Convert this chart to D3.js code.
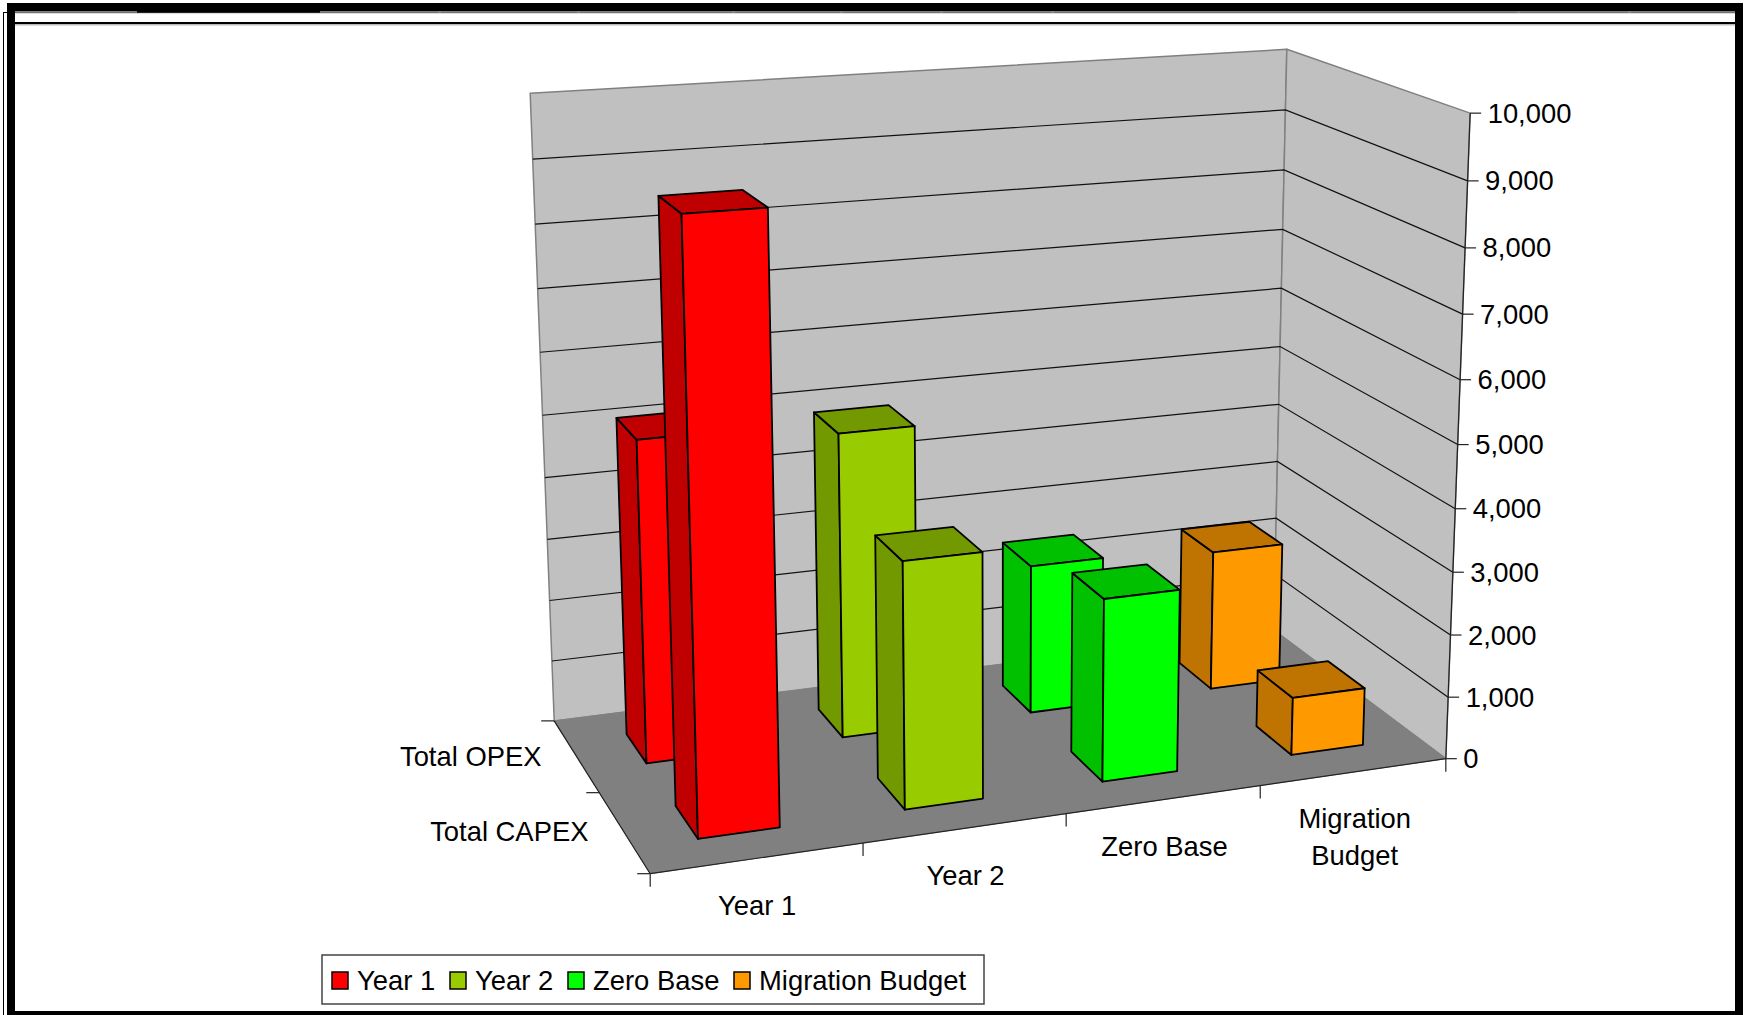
<!DOCTYPE html>
<html>
<head>
<meta charset="utf-8">
<script src="https://cdn.jsdelivr.net/npm/d3@7"></script>
<style>
  html, body { margin: 0; padding: 0; background: #fff; }
  svg { display: block; }
  text { font-family: "Liberation Sans", Arial, sans-serif; font-size: 27.4px; fill: #000; }
</style>
</head>
<body>
<div id="chart"></div>
<script>
// Data
const categories = ['Year 1', 'Year 2', 'Zero Base', 'Migration Budget'];
const rows = ['Total CAPEX', 'Total OPEX'];
const capexValues = [9150, 3830, 2890, 930];
const opexValues = [5120, 4910, 2440, 2320];
const valueTicks = [0, 1000, 2000, 3000, 4000, 5000, 6000, 7000, 8000, 9000, 10000];

const frontColors = ['#ff0000', '#99cc00', '#00ff00', '#ff9900'];
const sideColors = ['#c00000', '#739900', '#00c000', '#bf7300'];

const width = 1749;
const height = 1015;

const svg = d3.select('#chart')
  .append('svg')
  .attr('width', width)
  .attr('height', height);

// Scales, unit box: u left to right, v front to back, w bottom to top
const uScale = d3.scaleBand().domain(categories).range([0, 1]).paddingInner(0.61).paddingOuter(0.3);
const vScale = d3.scaleBand().domain(rows).range([0, 1]).paddingInner(0.58).paddingOuter(0.31);
const wScale = d3.scaleLinear().domain([0, 10000]).range([0, 1]);

// Screen positions of the plot box, used to fit the perspective
const anchors = [
  [0, 0, 0, 650, 874], [1, 0, 0, 1446.4, 758], [0, 1, 0, 554, 721], [1, 1, 0, 1274, 630],
  [0, 1, 1, 530, 93], [1, 1, 1, 1286.4, 49], [1, 0, 1, 1470.3, 114],
  [1, 0, 0.5, 1458.6, 444], [0, 1, 0.5, 543, 415], [1, 1, 0.5, 1279.7, 347],
  [0, 0.5, 0, 600, 793], [0.25, 0, 0, 863, 843], [0.5, 0, 0, 1065.6, 813], [0.75, 0, 0, 1259, 786]
];

function solve(A, b) {
  const n = b.length;
  const M = A.map((r, i) => [...r, b[i]]);
  for (let i = 0; i < n; i++) {
    let p = i;
    for (let k = i + 1; k < n; k++) if (Math.abs(M[k][i]) > Math.abs(M[p][i])) p = k;
    [M[i], M[p]] = [M[p], M[i]];
    for (let k = 0; k < n; k++) {
      if (k === i) continue;
      const f = M[k][i] / M[i][i];
      for (let j = i; j <= n; j++) M[k][j] -= f * M[i][j];
    }
  }
  return M.map((r, i) => r[n] / r[i]);
}

// x = (a0 + a1 u + a2 v + a3 w) / (1 + c1 u + c2 v + c3 w), same for y
const eqs = [];
const rhs = [];
anchors.forEach(([u, v, w, x, y]) => {
  eqs.push([1, u, v, w, 0, 0, 0, 0, -u * x, -v * x, -w * x]); rhs.push(x);
  eqs.push([0, 0, 0, 0, 1, u, v, w, -u * y, -v * y, -w * y]); rhs.push(y);
});
const ata = d3.range(11).map(i => d3.range(11).map(j => d3.sum(eqs, e => e[i] * e[j])));
const atb = d3.range(11).map(i => d3.sum(eqs, (e, k) => e[i] * rhs[k]));
const P = solve(ata, atb);

const project = (u, v, w) => {
  const t = 1 + P[8] * u + P[9] * v + P[10] * w;
  return [(P[0] + P[1] * u + P[2] * v + P[3] * w) / t, (P[4] + P[5] * u + P[6] * v + P[7] * w) / t];
};

const line = d3.line();
const poly = pts => line(pts) + 'Z';

function face(pts, fill, stroke, sw) {
  svg.append('path')
    .attr('d', poly(pts))
    .attr('fill', fill)
    .attr('stroke', stroke)
    .attr('stroke-width', sw)
    .attr('stroke-linejoin', 'round');
}

// Walls and floor
face([project(0, 1, 0), project(1, 1, 0), project(1, 1, 1), project(0, 1, 1)], '#c0c0c0', '#808080', 1.5);
face([project(1, 1, 0), project(1, 0, 0), project(1, 0, 1), project(1, 1, 1)], '#c0c0c0', '#808080', 1.5);
face([project(0, 0, 0), project(1, 0, 0), project(1, 1, 0), project(0, 1, 0)], '#808080', '#808080', 1);

// Gridlines
valueTicks.slice(1, -1).forEach(t => {
  const w = wScale(t);
  svg.append('path')
    .attr('d', line([project(0, 1, w), project(1, 1, w), project(1, 0, w)]))
    .attr('fill', 'none')
    .attr('stroke', '#111')
    .attr('stroke-width', 1.2);
});

// Axis lines and ticks
const axisLine = (a, b) => svg.append('line')
  .attr('x1', a[0]).attr('y1', a[1]).attr('x2', b[0]).attr('y2', b[1])
  .attr('stroke', '#222').attr('stroke-width', 1.2);

axisLine(project(1, 0, 0), project(1, 0, 1));
axisLine(project(0, 0, 0), project(1, 0, 0));
axisLine(project(0, 0, 0), project(0, 1, 0));

valueTicks.forEach(t => {
  const p = project(1, 0, wScale(t));
  axisLine(p, [p[0] + 11, p[1]]);
  svg.append('text')
    .attr('x', p[0] + 17.5)
    .attr('y', p[1])
    .attr('dy', '0.35em')
    .text(d3.format(',')(t));
});

d3.range(0, 1.01, 0.25).forEach(u => {
  const p = project(u, 0, 0);
  axisLine(p, [p[0], p[1] + 13]);
});
[0, 0.5, 1].forEach(v => {
  const p = project(0, v, 0);
  axisLine(p, [p[0] - 13, p[1]]);
});

// Category and row labels
categories.forEach(c => {
  const p = project(uScale(c) + uScale.bandwidth() / 2, 0, 0);
  const words = c === 'Migration Budget' ? ['Migration', 'Budget'] : [c];
  words.forEach((word, i) => {
    svg.append('text')
      .attr('x', p[0])
      .attr('y', p[1] + 47 + i * 37)
      .attr('dy', '0.35em')
      .attr('text-anchor', 'middle')
      .text(word);
  });
});

rows.forEach(r => {
  const p = project(0, vScale(r) + vScale.bandwidth() / 2, 0);
  svg.append('text')
    .attr('x', p[0] - 35)
    .attr('y', p[1])
    .attr('dy', '0.35em')
    .attr('text-anchor', 'end')
    .text(r);
});

// Bars, back row first
function drawBar(cat, row, value, i) {
  const u0 = uScale(cat);
  const u1 = u0 + uScale.bandwidth();
  const v0 = vScale(row);
  const v1 = v0 + vScale.bandwidth();
  const w = wScale(value);
  face([project(u0, v1, 0), project(u0, v0, 0), project(u0, v0, w), project(u0, v1, w)], sideColors[i], '#000', 1.8);
  face([project(u0, v0, w), project(u0, v1, w), project(u1, v1, w), project(u1, v0, w)], sideColors[i], '#000', 1.8);
  face([project(u0, v0, 0), project(u1, v0, 0), project(u1, v0, w), project(u0, v0, w)], frontColors[i], '#000', 1.8);
}

opexValues.forEach((d, i) => drawBar(categories[i], 'Total OPEX', d, i));
capexValues.forEach((d, i) => drawBar(categories[i], 'Total CAPEX', d, i));

// Legend
const legendX = [332, 450, 568, 734];
svg.append('rect')
  .attr('x', 322).attr('y', 955).attr('width', 662).attr('height', 49)
  .attr('fill', '#fff').attr('stroke', '#444').attr('stroke-width', 1.5);

categories.forEach((c, i) => {
  svg.append('rect')
    .attr('x', legendX[i]).attr('y', 972).attr('width', 16).attr('height', 17)
    .attr('fill', frontColors[i]).attr('stroke', '#000').attr('stroke-width', 1.5);
  svg.append('text')
    .attr('x', legendX[i] + 25)
    .attr('y', 980)
    .attr('dy', '0.35em')
    .text(c);
});

// Frame
const frame = [
  [7, 12.5, 1728, 1.2, '#ccc'], [15, 24, 1720, 1.5, '#bbb'],
  [7, 3, 1736, 8, '#000'], [137, 3, 183, 9.7, '#000'], [7, 3, 8, 1012, '#000'], [7, 1011, 1736, 4, '#000'],
  [1735, 3, 8, 1012, '#000'], [7, 11.5, 1728, 1, '#000'], [15, 22, 1720, 2, '#000'],
  [3, 12, 4, 1, '#000'], [3, 12, 1, 1003, '#000'],
  [438, 11, 3, 2, '#888'], [577, 11, 3, 2, '#888'], [732, 11, 3, 2, '#888'], [840, 11, 3, 2, '#888'],
  [940, 11, 3, 2, '#888'], [1051, 11, 3, 2, '#888'], [1517, 11, 3, 2, '#888'], [1628, 11, 3, 2, '#888']
];
svg.selectAll('.frame')
  .data(frame)
  .join('rect')
  .attr('class', 'frame')
  .attr('x', d => d[0]).attr('y', d => d[1]).attr('width', d => d[2]).attr('height', d => d[3])
  .attr('fill', d => d[4]);
</script>
</body>
</html>
